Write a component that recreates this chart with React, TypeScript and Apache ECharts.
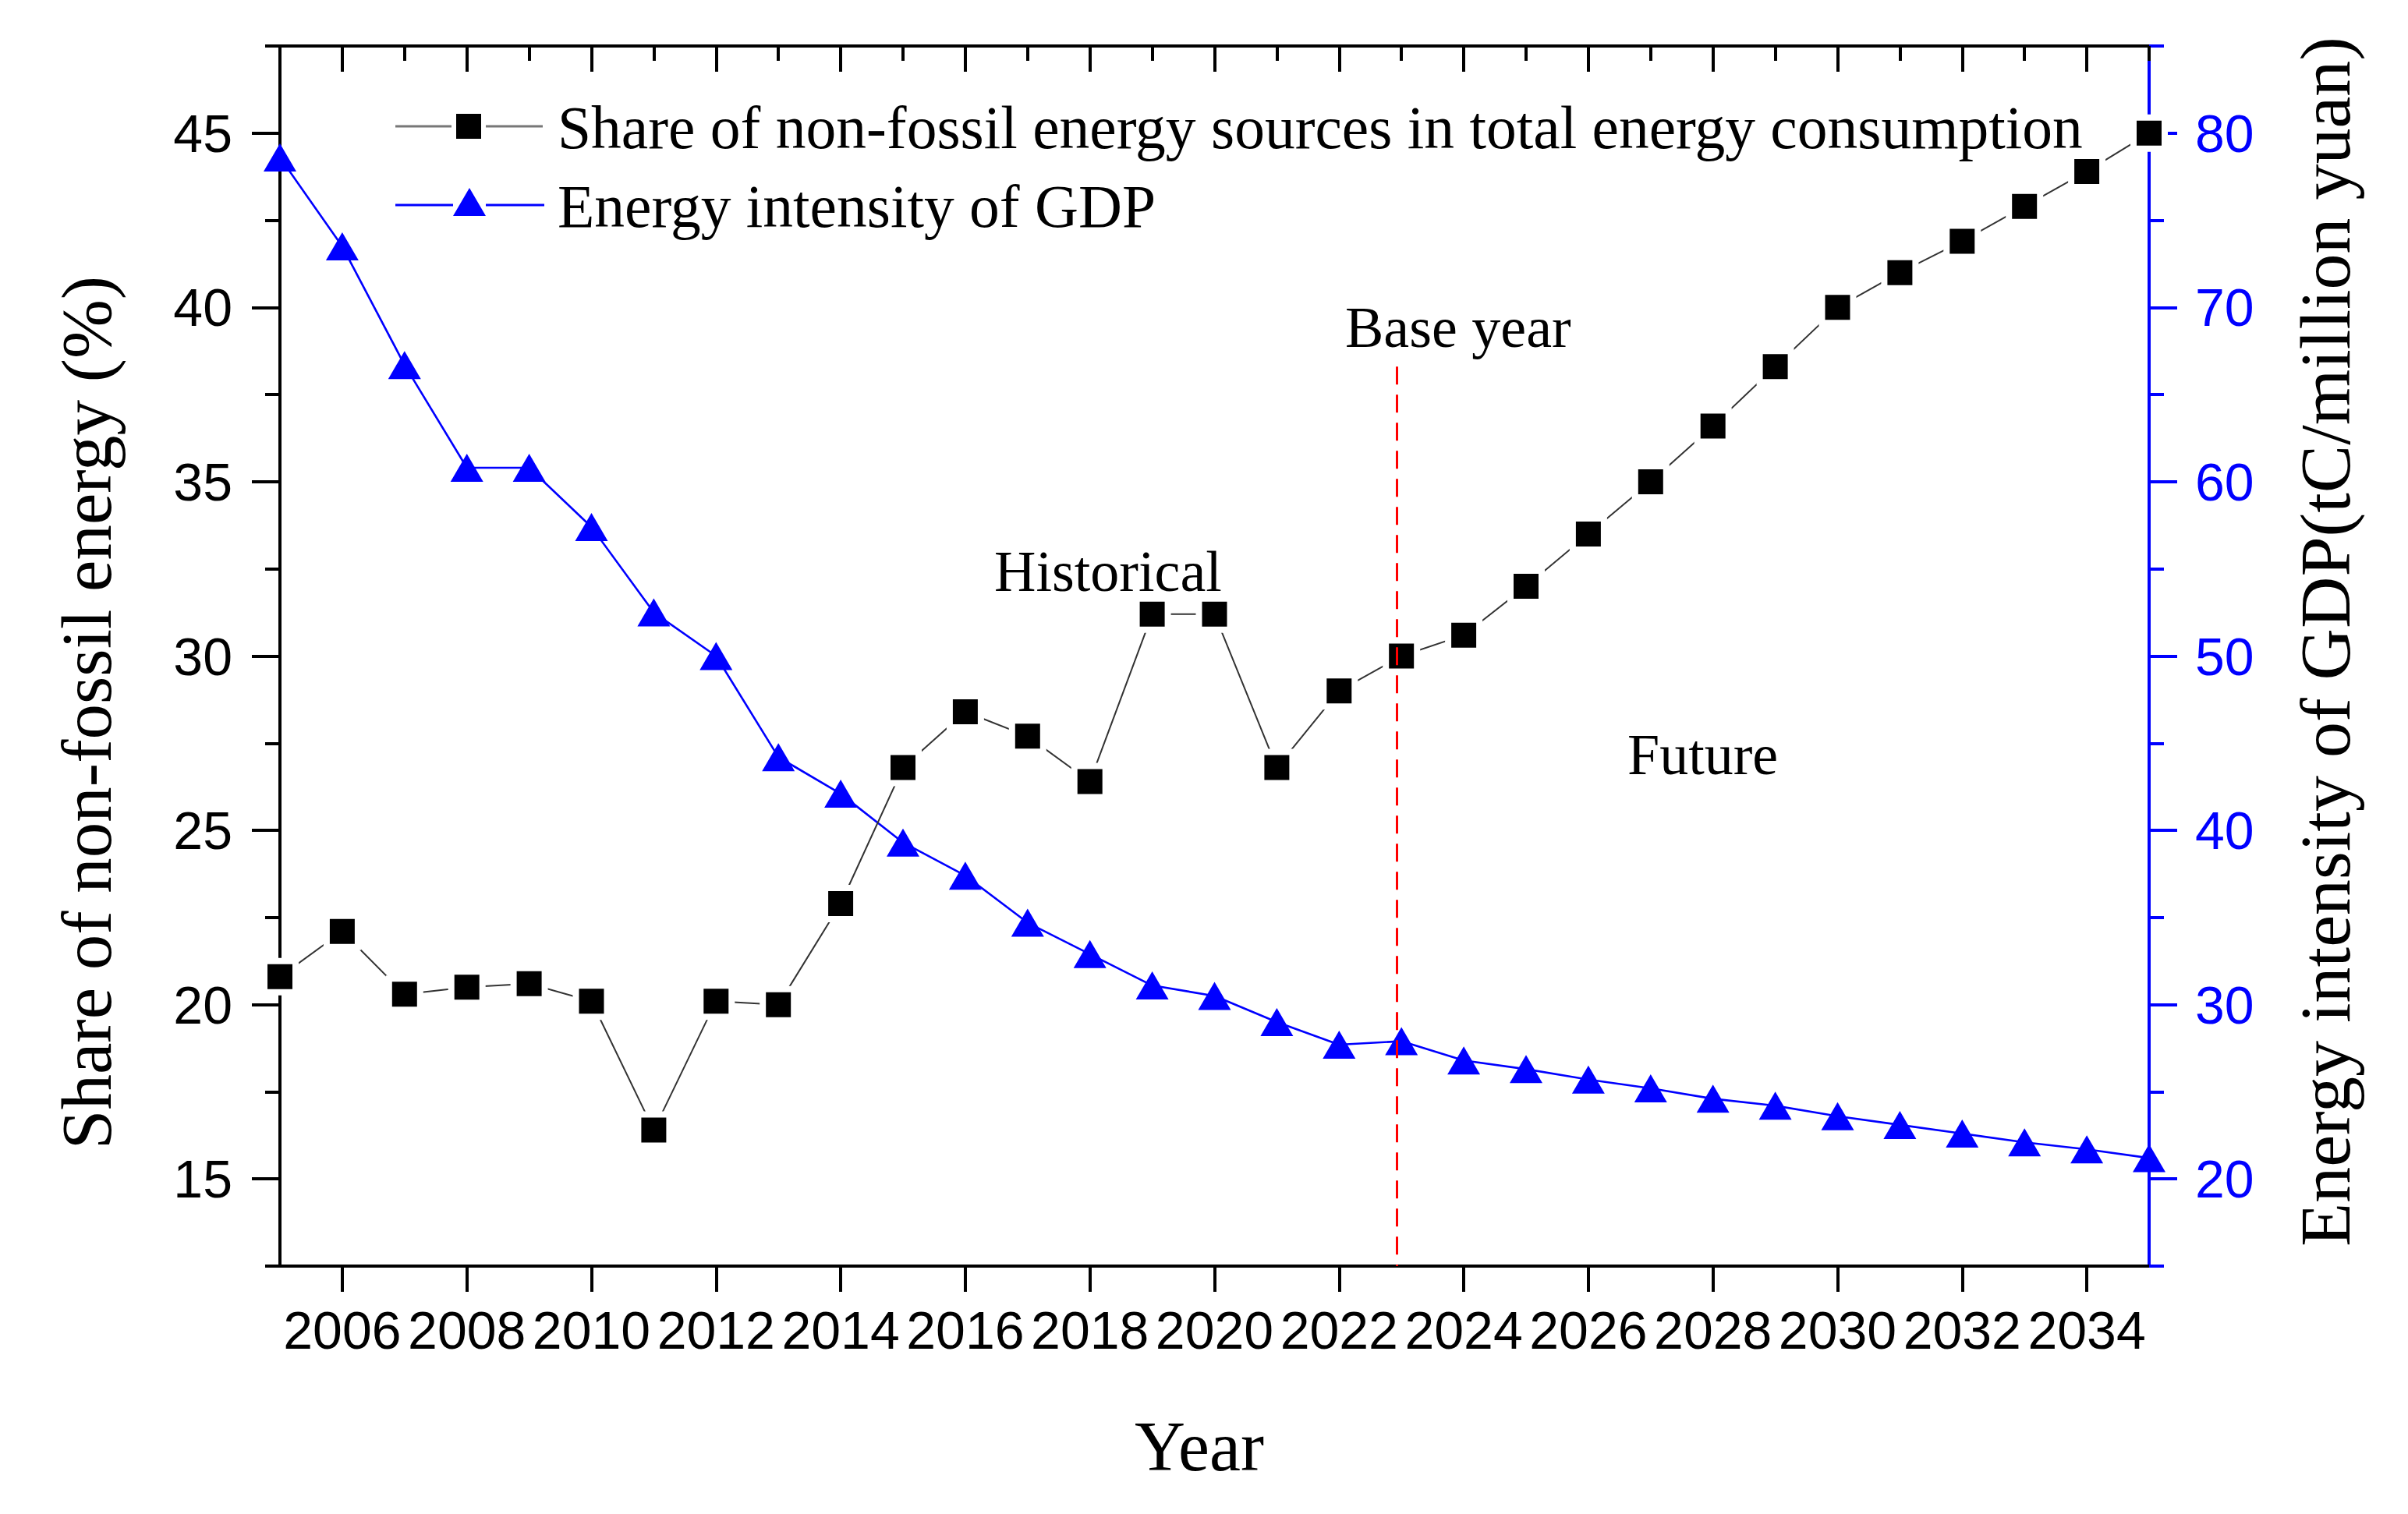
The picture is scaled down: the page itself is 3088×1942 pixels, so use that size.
import React, { useEffect, useRef } from "react";
import * as echarts from "echarts";

// ---- data ----
const YEARS = [
  2005, 2006, 2007, 2008, 2009, 2010, 2011, 2012, 2013, 2014, 2015, 2016, 2017, 2018, 2019, 2020,
  2021, 2022, 2023, 2024, 2025, 2026, 2027, 2028, 2029, 2030, 2031, 2032, 2033, 2034, 2035,
];
const NON_FOSSIL_SHARE = [
  20.8, 22.1, 20.3, 20.5, 20.6, 20.1, 16.4, 20.1, 20.0, 22.9, 26.8, 28.4, 27.7, 26.4, 31.2, 31.2,
  26.8, 29.0, 30.0, 30.6, 32.0, 33.5, 35.0, 36.6, 38.3, 40.0, 41.0, 41.9, 42.9, 43.9, 45.0,
];
const ENERGY_INTENSITY = [
  78.6, 73.5, 66.7, 60.8, 60.8, 57.4, 52.5, 50.0, 44.2, 42.1, 39.3, 37.4, 34.7, 32.9, 31.1, 30.5,
  29.0, 27.7, 27.9, 26.8, 26.3, 25.7, 25.2, 24.6, 24.2, 23.6, 23.1, 22.6, 22.1, 21.7, 21.2,
];
const YEAR_TICKS = [2006, 2008, 2010, 2012, 2014, 2016, 2018, 2020, 2022, 2024, 2026, 2028, 2030, 2032, 2034];
const LEFT_TICKS = [15, 20, 25, 30, 35, 40, 45];
const RIGHT_TICKS = [20, 30, 40, 50, 60, 70, 80];
const BASE_YEAR = 2022.92;
const BASE_LINE_TOP = 38.3;

const SERIES_NAMES = [
  "Share of non-fossil energy sources in total energy consumption",
  "Energy intensity of GDP",
];
const X_TITLE = "Year";
const LEFT_TITLE = "Share of non-fossil energy (%)";
const RIGHT_TITLE = "Energy intensity of GDP(tC/million yuan)";

const BLUE = "#0000ff";
const SANS = '"Liberation Sans", Arial, sans-serif';
const SERIF = '"Liberation Serif", "Times New Roman", serif';

export default function App() {
  const ref = useRef<HTMLDivElement>(null);

  useEffect(() => {
    if (!ref.current) return;
    const chart = echarts.init(ref.current, undefined, { renderer: "svg" });

    const tickLabel = { fontFamily: SANS, fontSize: 68, lineHeight: 68, color: "#000" };
    const blackLine = { show: true, onZero: false, lineStyle: { color: "#000", width: 4 } };
    const blueLine = { show: true, onZero: false, lineStyle: { color: BLUE, width: 4 } };

    const option: any = {
      animation: false,
      backgroundColor: "#ffffff",
      grid: { left: 359, top: 59, width: 2397, height: 1565, containLabel: false },
      xAxis: [
        {
          type: "value",
          position: "bottom",
          min: 2005,
          max: 2035,
          interval: 1,
          axisLine: blackLine,
          axisTick: { show: true, customValues: YEAR_TICKS, length: 33, lineStyle: { color: "#000", width: 4 } },
          axisLabel: { ...tickLabel, customValues: YEAR_TICKS, margin: 48, formatter: (v: number) => String(Math.round(v)) },
          splitLine: { show: false },
        },
        {
          type: "value",
          position: "top",
          min: 2005,
          max: 2035,
          interval: 1,
          axisLine: blackLine,
          axisTick: { show: true, inside: true, length: 19, lineStyle: { color: "#000", width: 4 } },
          axisLabel: { show: false },
          splitLine: { show: false },
        },
        {
          type: "value",
          position: "top",
          min: 2005,
          max: 2035,
          interval: 1,
          axisLine: blackLine,
          axisTick: { show: true, inside: true, customValues: YEAR_TICKS, length: 33, lineStyle: { color: "#000", width: 4 } },
          axisLabel: { show: false },
          splitLine: { show: false },
        },
      ],
      yAxis: [
        {
          type: "value",
          position: "left",
          min: 12.5,
          max: 47.5,
          interval: 2.5,
          axisLine: blackLine,
          axisTick: { show: true, customValues: LEFT_TICKS, length: 36, lineStyle: { color: "#000", width: 4 } },
          axisLabel: { ...tickLabel, customValues: LEFT_TICKS, margin: 61, formatter: (v: number) => String(v) },
          splitLine: { show: false },
        },
        {
          type: "value",
          position: "right",
          min: 15,
          max: 85,
          interval: 5,
          axisLine: blueLine,
          axisTick: { show: true, customValues: RIGHT_TICKS, length: 36, lineStyle: { color: BLUE, width: 4 } },
          axisLabel: { ...tickLabel, color: BLUE, customValues: RIGHT_TICKS, margin: 59, formatter: (v: number) => String(v) },
          splitLine: { show: false },
        },
        {
          type: "value",
          position: "left",
          min: 12.5,
          max: 47.5,
          interval: 2.5,
          axisLine: blackLine,
          axisTick: { show: true, length: 19, lineStyle: { color: "#000", width: 4 } },
          axisLabel: { show: false },
          splitLine: { show: false },
        },
        {
          type: "value",
          position: "right",
          min: 15,
          max: 85,
          interval: 5,
          axisLine: blueLine,
          axisTick: { show: true, length: 19, lineStyle: { color: BLUE, width: 4 } },
          axisLabel: { show: false },
          splitLine: { show: false },
        },
      ],
      series: [
        {
          name: SERIES_NAMES[1],
          type: "line",
          xAxisIndex: 0,
          yAxisIndex: 1,
          data: YEARS.map((y, i) => [y, ENERGY_INTENSITY[i]]),
          symbol: "triangle",
          symbolSize: [42, 36],
          showAllSymbol: true,
          lineStyle: { color: BLUE, width: 2.6 },
          itemStyle: { color: BLUE, borderColor: "#fff", borderWidth: 0 },
          z: 3,
        },
        {
          name: SERIES_NAMES[0],
          type: "line",
          xAxisIndex: 0,
          yAxisIndex: 0,
          data: YEARS.map((y, i) => [y, NON_FOSSIL_SHARE[i]]),
          symbol: "rect",
          symbolSize: 40,
          showAllSymbol: true,
          lineStyle: { color: "#333", width: 2 },
          itemStyle: { color: "#000", borderColor: "#ffffff", borderWidth: 8 },
          z: 4,
          markLine: {
            silent: true,
            symbol: ["none", "none"],
            label: { show: false },
            lineStyle: { color: "#ff0000", width: 3, type: [23, 13] },
            data: [[{ coord: [BASE_YEAR, BASE_LINE_TOP] }, { coord: [BASE_YEAR, 12.5] }]],
          },
        },
      ],
      graphic: [
        // legend
        { type: "line", shape: { x1: 507, y1: 162, x2: 579, y2: 162 }, style: { stroke: "#777", lineWidth: 3 } },
        { type: "line", shape: { x1: 623, y1: 162, x2: 696, y2: 162 }, style: { stroke: "#777", lineWidth: 3 } },
        { type: "rect", shape: { x: 585, y: 146, width: 32, height: 32 }, style: { fill: "#000" } },
        {
          type: "text",
          x: 715,
          y: 164,
          style: { text: SERIES_NAMES[0], font: `77.5px ${SERIF}`, fill: "#000", textAlign: "left", textVerticalAlign: "middle" },
        },
        { type: "line", shape: { x1: 507, y1: 263, x2: 581, y2: 263 }, style: { stroke: BLUE, lineWidth: 3 } },
        { type: "line", shape: { x1: 623, y1: 263, x2: 698, y2: 263 }, style: { stroke: BLUE, lineWidth: 3 } },
        { type: "polygon", shape: { points: [[602, 241], [581, 277], [623, 277]] }, style: { fill: BLUE } },
        {
          type: "text",
          x: 715,
          y: 265,
          style: { text: SERIES_NAMES[1], font: `77.5px ${SERIF}`, fill: "#000", textAlign: "left", textVerticalAlign: "middle" },
        },
        // annotations
        {
          type: "text",
          x: 1725,
          y: 420,
          style: { text: "Base year", font: `74px ${SERIF}`, fill: "#000", textAlign: "left", textVerticalAlign: "middle" },
        },
        {
          type: "text",
          x: 1275,
          y: 733,
          style: { text: "Historical", font: `74px ${SERIF}`, fill: "#000", textAlign: "left", textVerticalAlign: "middle" },
        },
        {
          type: "text",
          x: 2087,
          y: 968,
          style: { text: "Future", font: `74px ${SERIF}`, fill: "#000", textAlign: "left", textVerticalAlign: "middle" },
        },
        // axis titles
        {
          type: "text",
          x: 1538,
          y: 1855,
          style: { text: X_TITLE, font: `90px ${SERIF}`, fill: "#000", textAlign: "center", textVerticalAlign: "middle" },
        },
        {
          type: "text",
          x: 111,
          y: 914,
          rotation: Math.PI / 2,
          style: { text: LEFT_TITLE, font: `91px ${SERIF}`, fill: "#000", textAlign: "center", textVerticalAlign: "middle" },
        },
        {
          type: "text",
          x: 2982,
          y: 823,
          rotation: Math.PI / 2,
          style: { text: RIGHT_TITLE, font: `92px ${SERIF}`, fill: "#000", textAlign: "center", textVerticalAlign: "middle" },
        },
      ],
    };

    chart.setOption(option);
    return () => chart.dispose();
  }, []);

  return (
    <div
      ref={ref}
      style={{ position: "fixed", left: 0, top: 0, width: 3088, height: 1942, background: "#fff" }}
    />
  );
}
